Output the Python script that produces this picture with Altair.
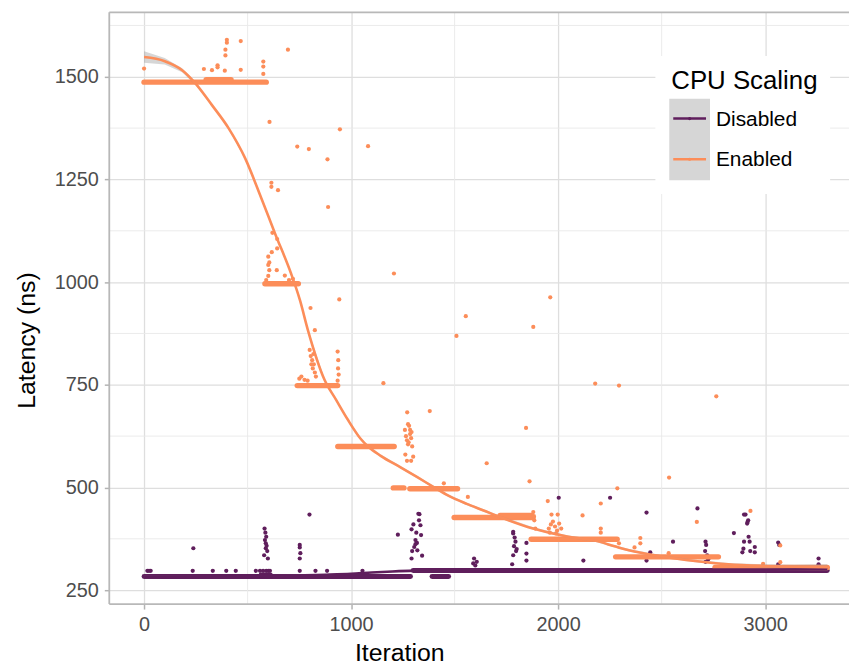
import altair as alt
import pandas as pd

# ---------------- data ----------------
series = ["Disabled", "Enabled"]
palette = ["#5f1e5c", "#fc8d59"]
legend_title = "CPU Scaling"

x_ticks = [0, 1000, 2000, 3000]
y_ticks = [250, 500, 750, 1000, 1250, 1500]
x_minor = [500, 1500, 2500]
y_minor = [375, 625, 875, 1125, 1375, 1625]

# dense plateaus (runs of overlapping points)
enabled_seg_start = [0, 300, 584, 740, 936, 1204, 1284, 1498, 1720, 1870, 2278, 2758]
enabled_seg_end = [590, 420, 745, 935, 1208, 1255, 1514, 1879, 1870, 2285, 2774, 3300]
enabled_seg_level = [1487, 1493, 996, 748, 600, 499, 497, 427, 432, 374, 331, 305]

disabled_seg_start = [0, 565, 1391, 1300]
disabled_seg_end = [1287, 610, 1471, 3300]
disabled_seg_level = [283, 287, 283, 298]

# individual points off the plateaus
enabled_x = [0, 289, 328, 355, 355, 390, 393, 393, 400, 400, 467, 467, 576, 576, 576, 695,
             606, 615, 615, 647, 740, 796, 886, 946, 1082, 889, 943, 1207,
             620, 643, 643, 617, 600, 605, 600, 605, 600, 641, 680, 719, 590, 700,
             804, 825, 1156,
             800, 805, 812, 820, 815, 825, 830, 808, 818,
             750, 760, 775, 790,
             935, 938, 937, 940, 935,
             1260, 1265, 1270, 1275, 1280, 1285, 1290, 1295, 1262, 1300, 1270, 1290, 1275, 1271, 1380, 1285, 1278, 1292,
             1448, 1509, 1554, 1564, 1655, 1845, 1862, 1880, 1950, 1962, 1968, 1998,
             1955, 1965, 1975, 1985, 1995, 2005, 2015, 1960, 1990,
             1880, 1885, 1890, 1883,
             2118, 2206, 2206, 2206, 2179, 2294, 2286, 2397, 2397, 2369, 2294, 2534, 2536, 2670,
             2764, 2929, 3073, 3073, 2990]
enabled_y = [1520, 1519, 1516, 1528, 1523, 1515, 1566, 1552, 1590, 1583, 1587, 1517, 1537, 1525, 1507, 1566,
             1390, 1242, 1232, 1224, 1330, 1324, 1299, 1372, 1331, 1183, 958, 1021,
             1120, 1105, 1082, 1073, 1062, 1048, 1042, 1029, 1015, 1029, 1016, 1008, 1005, 1005,
             937, 883, 754,
             835, 820, 810, 800, 790, 780, 770, 800, 825,
             765, 770, 762, 760,
             831, 810, 790, 775, 760,
             640, 625, 615, 605, 650, 630, 620, 600, 580, 575, 565, 565, 654, 683, 686, 640, 610, 635,
             510, 869, 917, 477, 559, 645, 515, 891, 467, 963, 434, 434,
             400, 410, 417, 405, 395, 412, 400, 390, 388,
             440, 420, 400, 430,
             432, 461, 400, 390, 753, 748, 498, 377, 364, 354, 364, 340, 524, 416,
             722, 443, 359, 318, 314]

disabled_x = [16, 24, 32, 235, 238, 332, 397, 443, 540, 560, 575, 590, 600, 608,
              582, 586, 584, 588, 588, 595, 580, 598, 590, 592,
              752, 752, 752, 752, 755, 799, 828, 884, 1055, 1226,
              1330, 1325, 1301, 1335, 1292, 1338, 1311, 1318, 1311, 1295, 1320, 1343, 1292, 1305, 1315, 1328,
              1594, 1607, 1590, 1600,
              1783, 1783, 1794, 1787, 1797, 1783, 1778, 1790, 1800, 1847, 1847, 1847,
              2003, 2122, 2251, 2427, 2445, 2427, 2555, 2673,
              2712, 2715, 2710, 2720, 2725, 2712, 2849,
              2898, 2905, 2915, 2920, 2898, 2925, 2895, 2890, 2928, 2950, 2950, 2913, 2918,
              3063, 3068, 3063, 3258, 3258]
disabled_y = [297, 297, 297, 297, 352, 297, 297, 297, 297, 297, 297, 297, 297, 297,
              400, 390, 372, 364, 352, 345, 335, 327, 380, 358,
              297, 360, 354, 327, 340, 434, 297, 297, 297, 385,
              435, 436, 410, 408, 398, 384, 372, 365, 362, 345, 347, 334, 327, 355, 390, 420,
              327, 319, 315, 310,
              392, 388, 368, 357, 345, 335, 313, 378, 350, 365, 339, 322,
              475, 322, 475, 439, 342, 322, 368, 449,
              368, 360, 345, 335, 325, 319, 389,
              434, 434, 416, 380, 368, 368, 351, 342, 345, 355, 342, 412, 420,
              366, 360, 313, 327, 313]

# smoothed fits (with half-width of the grey band)
enabled_fit_x = [0, 100, 184, 248, 328, 408, 488, 566, 633, 710, 753, 791, 871, 927, 983,
                 1047, 1079, 1143, 1239, 1320, 1399, 1470, 1559, 1640, 1719, 1879, 2038, 2182,
                 2278, 2342, 2502, 2662, 2822, 2982, 3141, 3300]
enabled_fit_y = [1548, 1538, 1516, 1484, 1431, 1375, 1302, 1205, 1118, 1021, 956, 884, 763, 714, 666,
                 618, 601, 577, 549, 525, 501, 480, 460, 444, 428, 400, 381, 370,
                 356, 347, 332, 321, 313, 309, 307, 306]
enabled_fit_se = [14, 8, 5, 4, 3, 3, 3, 3, 3, 3, 3, 3, 3, 3, 3,
                  3, 3, 3, 3, 3, 3, 3, 3, 3, 3, 3, 3, 3,
                  3, 3, 3, 3, 3, 4, 5, 7]

disabled_fit_x = [0, 300, 600, 900, 1000, 1100, 1200, 1300, 1400, 1500, 1700, 2000, 2500, 3000, 3300]
disabled_fit_y = [282, 283, 285, 288, 290, 293, 295.5, 297.5, 298.5, 299, 299.5, 300, 300, 300, 301]
disabled_fit_se = [3, 2, 2, 2, 2, 2, 2, 2, 2, 2, 2, 2, 2, 2, 3]

# ---------------- tables ----------------
seg = pd.concat([
    pd.DataFrame({"series": series[0], "start": disabled_seg_start, "end": disabled_seg_end, "level": disabled_seg_level}),
    pd.DataFrame({"series": series[1], "start": enabled_seg_start, "end": enabled_seg_end, "level": enabled_seg_level}),
])
pts = pd.concat([
    pd.DataFrame({"series": series[0], "iteration": disabled_x, "latency": disabled_y}),
    pd.DataFrame({"series": series[1], "iteration": enabled_x, "latency": enabled_y}),
])
fit = pd.concat([
    pd.DataFrame({"series": series[0], "iteration": disabled_fit_x, "latency": disabled_fit_y, "se": disabled_fit_se}),
    pd.DataFrame({"series": series[1], "iteration": enabled_fit_x, "latency": enabled_fit_y, "se": enabled_fit_se}),
])
fit["lo"] = fit["latency"] - fit["se"]
fit["hi"] = fit["latency"] + fit["se"]

W, H = 745, 596
FONT = "Liberation Sans"

xs = alt.Scale(domain=[-168, 3405], nice=False, zero=False)
ys = alt.Scale(domain=[216, 1657], nice=False, zero=False)
cs = alt.Scale(domain=series, range=palette)

X = lambda f="iteration": alt.X(f"{f}:Q", scale=xs, axis=alt.Axis(
    values=x_ticks, title="Iteration", format="d", titleX=292, titleY=57,
    titleBaseline="alphabetic", titleAlign="center"))
Y = lambda f="latency": alt.Y(f"{f}:Q", scale=ys, axis=alt.Axis(
    values=y_ticks, title="Latency (ns)", format="d", titleX=-83, titleY=330,
    titleAngle=270, titleAlign="center", titleBaseline="middle"))

minor_x = alt.Chart(pd.DataFrame({"v": x_minor})).mark_rule(color="#e8e8e8", strokeWidth=0.9).encode(
    x=alt.X("v:Q", scale=xs))
minor_y = alt.Chart(pd.DataFrame({"v": y_minor})).mark_rule(color="#e8e8e8", strokeWidth=0.9).encode(
    y=alt.Y("v:Q", scale=ys))

def band(name, width):
    return alt.Chart(seg[seg.series == name]).mark_rule(strokeWidth=width, strokeCap="round").encode(
        x=X("start"), x2="end", y=Y("level"),
        color=alt.Color("series:N", scale=cs, legend=None))

def dots(name):
    return alt.Chart(pts[pts.series == name]).mark_circle(size=18, opacity=1).encode(
        x=X(), y=Y(), color=alt.Color("series:N", scale=cs, legend=None))

ribbon = alt.Chart(fit).mark_area(color="#999999", opacity=0.4).encode(
    x=X(), y=Y("lo"), y2="hi", detail="series:N")
lines = alt.Chart(fit).mark_line(strokeWidth=2.6, interpolate="monotone").encode(
    x=X(), y=Y(), color=alt.Color("series:N", scale=cs, legend=None))

border_col = "#b8b8b8"
one = pd.DataFrame({"k": [0]})
b_top = alt.Chart(one).mark_rule(color=border_col, strokeWidth=1.8).encode(
    x=alt.value(0), x2=alt.value(W), y=alt.value(0))
b_left = alt.Chart(one).mark_rule(color=border_col, strokeWidth=1.8).encode(
    x=alt.value(0), y=alt.value(0), y2=alt.value(H))
b_bot = alt.Chart(one).mark_rule(color=border_col, strokeWidth=1.8).encode(
    x=alt.value(0), x2=alt.value(W), y=alt.value(H))

# legend drawn inside the panel
leg_bg = alt.Chart(one).mark_rect(color="white").encode(
    x=alt.value(550), x2=alt.value(726), y=alt.value(44), y2=alt.value(183))
leg_key = alt.Chart(one).mark_rect(color="#d6d6d6").encode(
    x=alt.value(564), x2=alt.value(605), y=alt.value(87), y2=alt.value(169))
leg_title = alt.Chart(pd.DataFrame({"t": [legend_title]})).mark_text(
    font=FONT, fontSize=26, align="left", baseline="alphabetic", color="black").encode(
    x=alt.value(566), y=alt.value(77), text="t:N")
leg_parts = []
for i, (name, col) in enumerate(zip(series, palette)):
    yy = 107 + i * 41
    d = pd.DataFrame({"t": [name]})
    leg_parts.append(alt.Chart(d).mark_rule(color=col, strokeWidth=2.6).encode(
        x=alt.value(568), x2=alt.value(601), y=alt.value(yy)))
    leg_parts.append(alt.Chart(d).mark_circle(color=col, size=10, opacity=1).encode(
        x=alt.value(584.5), y=alt.value(yy)))
    leg_parts.append(alt.Chart(d).mark_text(font=FONT, fontSize=21, align="left",
                                            baseline="middle", color="black").encode(
        x=alt.value(611), y=alt.value(yy + 1), text="t:N"))

chart = alt.layer(
    minor_x, minor_y,
    band(series[0], 5), dots(series[0]),
    band(series[1], 5.5), dots(series[1]),
    ribbon, lines,
    b_top, b_left, b_bot,
    leg_bg, leg_key, leg_title, *leg_parts,
).properties(
    width=W, height=H, autosize="none",
    padding={"left": 102, "top": 2, "right": 0, "bottom": 62},
).configure_view(stroke=None).configure_axis(
    grid=True, gridColor="#dedede", gridWidth=1.3, domain=False,
    tickColor="#b3b3b3", tickSize=5, tickWidth=1.5,
    labelFont=FONT, labelFontSize=20, labelColor="#4d4d4d", labelPadding=6,
    titleFont=FONT, titleFontSize=25, titleFontWeight="normal", titleColor="black",
    labelFlush=False, labelOverlap=False,
)

chart.save("out.html", embed_options={"renderer": "svg", "actions": False})
